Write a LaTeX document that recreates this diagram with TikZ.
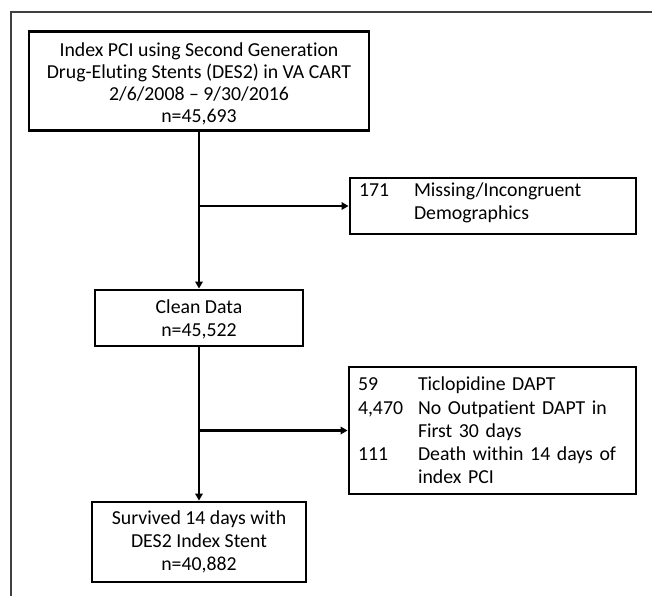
\documentclass[tikz,border=0pt]{standalone}
\usepackage{fontspec}
\setmainfont{Carlito}[Ligatures=NoCommon]
\usetikzlibrary{arrows.meta}
\begin{document}
\begin{tikzpicture}[x=1pt,y=-1pt,
  box/.style={draw=black, line width=2.9pt, inner sep=0pt, font=\fontsize{19.8}{23.3}\selectfont, align=center},
  lbox/.style={box, align=left, inner xsep=9pt},
  conn/.style={line width=2.9pt, -{Triangle[length=7pt,width=7.5pt]}},
  frame/.style={draw=black!75, line width=1.6pt}]
\useasboundingbox (0,0) rectangle (652,596);
\draw[frame] (11,596) -- (11,12) -- (652,12);
\node[box, minimum width=340pt, minimum height=99pt] (b1) at (199,81)
  {\raisebox{-4pt}[\height][\depth]{\fontsize{19.8}{22}\selectfont\begin{tabular}{@{}c@{}}Index PCI using Second Generation\\Drug-Eluting Stents (DES2) in VA CART\\2/6/2008 -- 9/30/2016\\n=45,693\end{tabular}}};
\node[lbox, text width=268pt, minimum height=56pt] (b3) at (493,206)
  {\raisebox{3pt}[\height][\depth]{\begin{tabular}{@{}l@{}}\makebox[55pt][l]{171}Missing/Incongruent\\\hspace*{55pt}Demographics\end{tabular}}};
\node[box, minimum width=208pt, minimum height=56pt] (b2) at (199,318)
  {\raisebox{-2pt}[\height][\depth]{\begin{tabular}{@{}c@{}}Clean Data\\n=45,522\end{tabular}}};
\node[lbox, text width=269pt, minimum height=127pt] (b4) at (492.5,430.5)
  {\makebox[60pt][l]{59}Ticlopidine DAPT\\\makebox[60pt][l]{4,470}No Outpatient DAPT in\\\hspace*{60pt}First 30 days\\\makebox[60pt][l]{111}Death within 14 days of\\\hspace*{60pt}index PCI};
\node[box, minimum width=214pt, minimum height=80pt] (b5) at (199,542)
  {Survived 14 days with\\DES2 Index Stent\\n=40,882};
\coordinate (j1) at (199,206);
\coordinate (j2) at (199,430.5);
\draw[conn] (b1.south) -- (b2.north);
\draw[conn] (j1) -- (b3.west);
\draw[conn] (b2.south) -- (b5.north);
\draw[conn] (j2) -- (b4.west);
\end{tikzpicture}
\end{document}
